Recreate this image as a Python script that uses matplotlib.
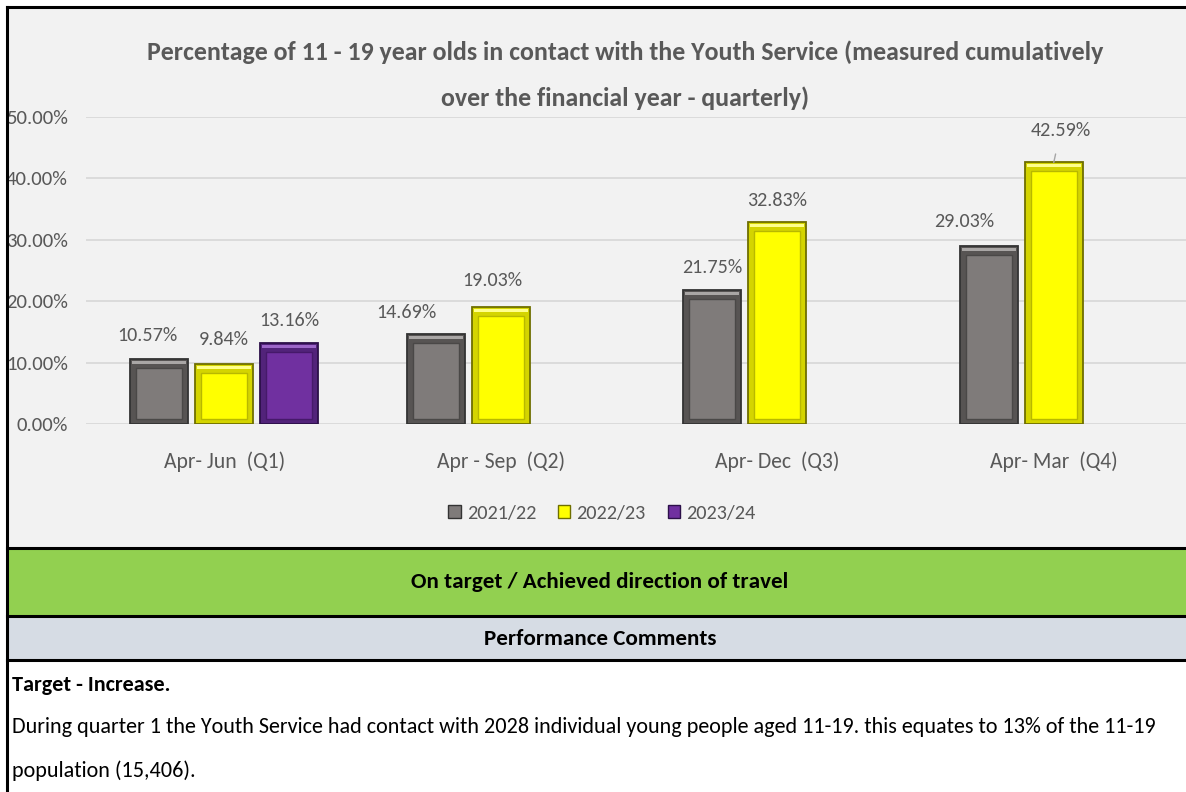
"""
Youth Service contact rate by quarter: clustered bars with a bevel look,
plus the status band and performance comments beneath the chart.
"""

import matplotlib
matplotlib.use("Agg")
import matplotlib.pyplot as plt
from matplotlib.patches import Rectangle, Patch
from matplotlib.lines import Line2D

plt.rcParams["font.family"] = ["Carlito", "DejaVu Sans"]

# ---- data ----
quarters = ["Apr- Jun  (Q1)", "Apr - Sep  (Q2)", "Apr- Dec  (Q3)", "Apr- Mar  (Q4)"]
series_names = ["2021/22", "2022/23", "2023/24"]
vals_2122 = [10.57, 14.69, 21.75, 29.03]
vals_2223 = [9.84, 19.03, 32.83, 42.59]
vals_2324 = [13.16, None, None, None]
y_ticks = [0, 10, 20, 30, 40, 50]

title_1 = "Percentage of 11 - 19 year olds in contact with the Youth Service (measured cumulatively"
title_2 = "over the financial year - quarterly)"
status_text = "On target / Achieved direction of travel"
comments_head = "Performance Comments"
comment_bold = "Target - Increase."
comment_line_1 = ("During quarter 1 the Youth Service had contact with 2028 individual young people aged 11-19. "
                  "this equates to 13% of the 11-19")
comment_line_2 = "population (15,406)."

# ---- styling ----
W, H = 1186, 792
GREY_TXT = "#595959"
# (bevel band, inner face, top highlight, outer edge, inner edge)
styles = [
    ("#575453", "#7f7b7a", "#a9a6a5", "#333333", "#4a4847"),
    ("#d4d400", "#ffff00", "#ffff8c", "#6f6f00", "#b8b800"),
    ("#52237a", "#7030a0", "#9c66c8", "#2c1049", "#46196a"),
]
# label nudges in pixels (dx, dy above bar top) per series, per quarter
label_nudge = [
    [(-12, 24), (-29, 21), (0, 23), (-25, 24)],
    [(0, 24), (-8, 27), (0, 22), (7, 32)],
    [(0, 23), None, None, None],
]

fig = plt.figure(figsize=(W / 100, H / 100), dpi=100)
fig.patch.set_facecolor("white")
renderer = fig.canvas.get_renderer()


def fx(px):
    return px / W


def fy(py):
    return 1 - py / H


def size_for(text, width_px, bold=False):
    # font size (pt) that makes `text` about width_px wide
    t = fig.text(0, 0, text, fontsize=20, fontweight="bold" if bold else "normal")
    w = t.get_window_extent(renderer).width
    t.remove()
    return 20 * width_px / w


# panels
for y0, y1, col in [(7, 548, "#f2f2f2"), (548, 616, "#92d050"), (617, 660, "#d6dce4")]:
    fig.patches.append(Rectangle((fx(7), fy(y1)), 1, fy(y0) - fy(y1), transform=fig.transFigure,
                                 facecolor=col, edgecolor="none", zorder=-5))
for py in [7, 548, 616, 660]:
    fig.add_artist(Line2D([fx(7), 1], [fy(py), fy(py)], color="black", lw=2.2, zorder=5))
fig.add_artist(Line2D([fx(7), fx(7)], [fy(7), 0], color="black", lw=2.2, zorder=5))

tick_fs = size_for("50.00%", 60) * 1.03
xtick_fs = size_for(quarters[0], 116) * 1.04
lab_fs = size_for("10.57%", 58) * 1.04
leg_fs = size_for("2021/22", 67) * 1.04

# chart axes
px_per_cat = 276.5
left_px, zero_px, top_px = 86, 424, 117
ax = fig.add_axes([fx(left_px), fy(zero_px), 1 - fx(left_px), (zero_px - top_px) / H])
ax.set_facecolor("none")
ax.set_xlim(-0.5, -0.5 + (W - left_px) / px_per_cat)
ax.set_ylim(0, 50)
for s in ax.spines.values():
    s.set_visible(False)
ax.set_yticks(y_ticks)
ax.set_yticklabels([f"{t:.2f}%" for t in y_ticks], fontsize=tick_fs, color=GREY_TXT)
ax.set_xticks(range(len(quarters)))
ax.set_xticklabels(quarters, fontsize=xtick_fs, color=GREY_TXT)
ax.tick_params(axis="y", length=0, pad=13)
ax.tick_params(axis="x", length=0, pad=20)
ax.grid(True, axis="y", color="#d9d9d9", lw=1.3, zorder=0)
ax.set_axisbelow(True)

bar_w = 58 / px_per_cat
step = 65 / px_per_cat
inset_x = 6 / px_per_cat
px_per_pct = (zero_px - top_px) / 50
inset_top = 9 / px_per_pct
inset_bot = 5 / px_per_pct

all_series = [vals_2122, vals_2223, vals_2324]
for si, vals in enumerate(all_series):
    band, face, light, edge, inner_edge = styles[si]
    xs = [qi + (si - 1) * step for qi, v in enumerate(vals) if v is not None]
    hs = [v for v in vals if v is not None]
    # outer bevel frame
    ax.bar(xs, hs, width=bar_w, color=band, edgecolor=edge, linewidth=1.3, zorder=3)
    # light top bevel
    ax.bar(xs, [3 / px_per_pct] * len(hs), bottom=[h - 5 / px_per_pct for h in hs],
           width=bar_w - 4 / px_per_cat, color=light, linewidth=0, zorder=4)
    # inner panel
    ax.bar(xs, [h - inset_top - inset_bot for h in hs], bottom=inset_bot,
           width=bar_w - 2 * inset_x, color=face, edgecolor=inner_edge, linewidth=1.0, zorder=5)
    for qi, v in enumerate(vals):
        if v is None:
            continue
        x = qi + (si - 1) * step
        dx, dy = label_nudge[si][qi]
        arrow = None
        if dy > 28:
            arrow = dict(arrowstyle="-", color="#a6a6a6", lw=1, shrinkA=9, shrinkB=0)
        ax.annotate(f"{v:.2f}%", xy=(x, v), xytext=(dx * 0.72, dy * 0.72),
                    textcoords="offset points", ha="center", va="center",
                    fontsize=lab_fs, color=GREY_TXT, annotation_clip=False,
                    arrowprops=arrow)

# title
title_fs = size_for(title_1, 930, bold=True) * 1.03
fig.text(fx(625), fy(52), title_1, ha="center", va="center", fontsize=title_fs,
         fontweight="bold", color=GREY_TXT)
fig.text(fx(625), fy(98), title_2, ha="center", va="center", fontsize=title_fs,
         fontweight="bold", color=GREY_TXT)

# legend
handles = [Patch(facecolor=styles[i][1], edgecolor=styles[i][3], lw=1) for i in range(3)]
fig.legend(handles, series_names, loc="center", bbox_to_anchor=(fx(602), fy(513)), ncol=3,
           frameon=False, fontsize=leg_fs, labelcolor=GREY_TXT, handlelength=0.6,
           handleheight=0.6, handletextpad=0.3, columnspacing=1.1)

# status band and comments
head_fs = size_for(status_text, 365, bold=True) * 1.03
fig.text(fx(600), fy(582), status_text, ha="center", va="center", fontsize=head_fs,
         fontweight="bold", color="black")
fig.text(fx(600), fy(639), comments_head, ha="center", va="center", fontsize=head_fs,
         fontweight="bold", color="black")
body_fs = size_for(comment_line_1, 1146)
fig.text(fx(12), fy(685), comment_bold, ha="left", va="center", fontsize=body_fs,
         fontweight="bold", color="black")
fig.text(fx(12), fy(727), comment_line_1, ha="left", va="center", fontsize=body_fs, color="black")
fig.text(fx(12), fy(771), comment_line_2, ha="left", va="center", fontsize=body_fs, color="black")

fig.savefig("out.png", dpi=100, facecolor=fig.get_facecolor())
